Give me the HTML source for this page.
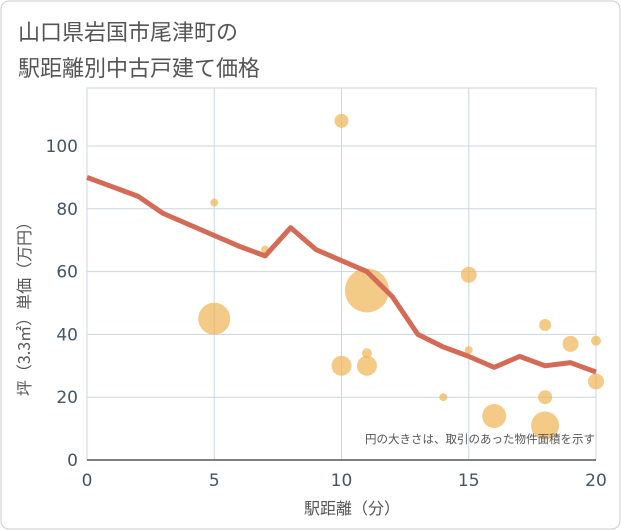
<!DOCTYPE html>
<html><head><meta charset="utf-8"><style>
body{margin:0;background:#fff;}
svg{display:block;font-family:"DejaVu Sans","Noto Sans CJK JP",sans-serif;}
</style></head><body>
<svg width="621" height="530">
<rect x="1" y="1" width="619" height="528" rx="8" fill="#fff" stroke="#ccc"/>
<text x="18" y="40" font-size="22" fill="#555" font-family="Noto Sans CJK JP, sans-serif">山口県岩国市尾津町の</text>
<text x="18" y="76" font-size="22" fill="#555" font-family="Noto Sans CJK JP, sans-serif">駅距離別中古戸建て価格</text>
<g id="grid"></g><g id="bubbles"></g><g id="line"></g><g id="axes"></g>
<text x="595" y="443" font-size="11.5" fill="#555" text-anchor="end" font-family="Noto Sans CJK JP, sans-serif">円の大きさは、取引のあった物件面積を示す</text>
<text x="352" y="514" font-size="16" fill="#555" text-anchor="middle" font-family="Noto Sans CJK JP, sans-serif">駅距離（分）</text>
<text transform="translate(30,305) rotate(-90)" font-size="16" fill="#555" text-anchor="middle" font-family="Noto Sans CJK JP, sans-serif">坪（3.3㎡）単価（万円）</text>
</svg>
<script>
const xTicks=[0,5,10,15,20];
const yTicks=[0,20,40,60,80,100];
const lineX=[0,1,2,3,4,5,6,7,8,9,10,11,12,13,14,15,16,17,18,19,20];
const lineY=[90,87,84,78.5,75,71.5,68,65,74,67,63.5,60,52,40,36,33,29.5,33,30,31,28];
const bubX=[5,5,7,10,10,11,11,11,14,15,15,16,18,18,18,19,20,20];
const bubY=[82,45,67,108,30,54,34,30,20,59,35,14,43,20,11,37,38,25];
const bubR=[4,16,4,7,10,22,5,10,4,8,4,12,6,7,14,8,5,8];
const NS="http://www.w3.org/2000/svg";
const X0=87,X1=596,Y0=460,Y100=146,TOP=88;
const sx=v=>X0+(X1-X0)*v/20, sy=v=>Y0-(Y0-Y100)*v/100;
function mk(t,a,p){const e=document.createElementNS(NS,t);for(const k in a)e.setAttribute(k,a[k]);p.appendChild(e);return e;}
const g=document.getElementById('grid'),ax=document.getElementById('axes');
mk('rect',{x:X0,y:TOP,width:X1-X0,height:Y0-TOP,fill:'none',stroke:'#ccd6e0'},g);
xTicks.forEach(t=>{const l=mk('line',{x1:sx(t),x2:sx(t),y1:TOP,y2:Y0,stroke:'#ccd6e0'},g);


const tx=mk('text',{x:sx(t),y:Y0+26,'font-size':17,fill:'#445566','text-anchor':'middle'},ax);tx.textContent=t;

});
yTicks.forEach(t=>{const l=mk('line',{x1:X0,x2:X1,y1:sy(t),y2:sy(t),stroke:'#ccd6e0'},g);


const tx=mk('text',{x:X0-9,y:sy(t)+6,'font-size':17,fill:'#445566','text-anchor':'end'},ax);tx.textContent=t;

});
const ba=mk('line',{x1:X0,x2:X1,y1:Y0,y2:Y0,stroke:'#555','stroke-width':1.5},ax);


const b=document.getElementById('bubbles');
bubX.forEach((v,i)=>{const c=mk('circle',{cx:sx(v),cy:sy(bubY[i]),r:bubR[i],fill:'#f0b454','fill-opacity':0.7},b);

});
const p=mk('polyline',{points:lineX.map((v,i)=>sx(v)+','+sy(lineY[i])).join(' '),fill:'none',stroke:'#d46b57','stroke-width':5,'stroke-linejoin':'round'},document.getElementById('line'));


</script>
</body></html>
